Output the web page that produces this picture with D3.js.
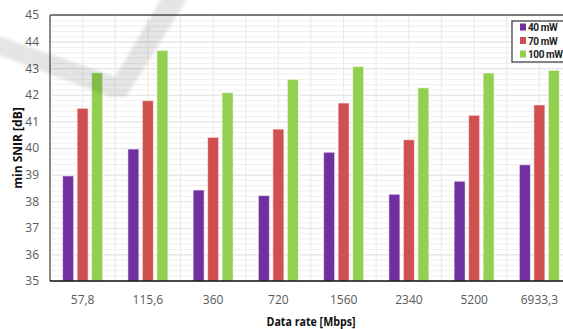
<!DOCTYPE html>
<html>
<head>
<meta charset="utf-8">
<script src="https://cdn.jsdelivr.net/npm/d3@7/dist/d3.min.js"></script>
<style>
  html, body { margin: 0; padding: 0; background: #fff; overflow: hidden; }
  svg { display: block; }
</style>
</head>
<body>
<svg id="chart" width="563" height="329"></svg>
<script>
// Data rates (categories) and minimum SNIR per transmit power
const categories = ["57,8", "115,6", "360", "720", "1560", "2340", "5200", "6933,3"];
const seriesNames = ["40 mW", "70 mW", "100 mW"];
const snir40 = [38.95, 39.96, 38.42, 38.21, 39.84, 38.26, 38.75, 39.37];
const snir70 = [41.49, 41.78, 40.40, 40.71, 41.69, 40.31, 41.23, 41.62];
const snir100 = [42.83, 43.67, 42.08, 42.58, 43.06, 42.26, 42.82, 42.92];
const yTicks = [35, 36, 37, 38, 39, 40, 41, 42, 43, 44, 45];
const colors = ["#7030A0", "#D0504F", "#92D050"];

const series = [snir40, snir70, snir100];

const svg = d3.select("#chart");
const margin = { left: 50, top: 15, bottom: 48 };
const plotRight = 572;
const H = 329;

const x = d3.scaleBand().domain(categories).range([margin.left, plotRight]).padding(0);
const y = d3.scaleLinear().domain([35, 45]).range([H - margin.bottom, margin.top]);
const barW = 11, barStep = 14.5;

const defs = svg.append("defs");
defs.append("filter").attr("id", "soft")
  .attr("x", "-20%").attr("y", "-20%").attr("width", "140%").attr("height", "140%")
  .append("feGaussianBlur").attr("stdDeviation", 1.8);

const grid = svg.append("g");
// minor horizontal gridlines
const minor = d3.range(35, 45.001, 0.2).map(v => +v.toFixed(1));
grid.selectAll("line.minor").data(minor).join("line")
  .attr("x1", margin.left).attr("x2", plotRight)
  .attr("y1", d => y(d) + 0.5).attr("y2", d => y(d) + 0.5)
  .attr("stroke", "#f0f0f0").attr("stroke-width", 1);
// major horizontal gridlines
grid.selectAll("line.major").data(yTicks).join("line")
  .attr("x1", margin.left).attr("x2", plotRight)
  .attr("y1", d => y(d) + 0.5).attr("y2", d => y(d) + 0.5)
  .attr("stroke", "#e4e4e4").attr("stroke-width", 1);
// vertical gridlines at category centres and boundaries
const vlines = [];
categories.forEach(c => { vlines.push(x(c)); vlines.push(x(c) + x.bandwidth() / 2); });
vlines.push(plotRight);
grid.selectAll("line.v").data(vlines).join("line")
  .attr("x1", d => d).attr("x2", d => d)
  .attr("y1", margin.top).attr("y2", y(35))
  .attr("stroke", "#ececec").attr("stroke-width", 1.2);

// bars
const bars = svg.append("g");
series.forEach((vals, si) => {
  bars.selectAll(null).data(vals).join("rect")
    .attr("x", (d, i) => x(categories[i]) + x.bandwidth() / 2 + (si - 1) * barStep - barW / 2)
    .attr("y", d => y(d))
    .attr("width", barW)
    .attr("height", d => y(35) - y(d))
    .attr("fill", colors[si])
    .attr("stroke", "rgba(255,255,255,0.55)")
    .attr("stroke-width", 1);
});

// axes frame
svg.append("line").attr("x1", margin.left).attr("x2", plotRight)
  .attr("y1", margin.top).attr("y2", margin.top)
  .attr("stroke", "#555").attr("stroke-width", 1.5);
svg.append("line").attr("x1", margin.left).attr("x2", margin.left)
  .attr("y1", margin.top).attr("y2", y(35))
  .attr("stroke", "#6a6a6a").attr("stroke-width", 1.5);
svg.append("line").attr("x1", margin.left).attr("x2", plotRight)
  .attr("y1", y(35)).attr("y2", y(35))
  .attr("stroke", "#111").attr("stroke-width", 1.5);

const tickFont = "'Open Sans', sans-serif";

// y-axis tick labels
const yAxis = d3.axisLeft(y).tickValues(yTicks).tickSize(0).tickPadding(11);
const yg = svg.append("g").attr("transform", `translate(${margin.left},0)`).call(yAxis);
yg.select(".domain").remove();
yg.selectAll("text").attr("font-family", tickFont).attr("font-size", 12).attr("fill", "#595959");

// x-axis tick labels
const xAxis = d3.axisBottom(x).tickSize(0).tickPadding(14);
const xg = svg.append("g").attr("transform", `translate(0,${y(35)})`).call(xAxis);
xg.select(".domain").remove();
xg.selectAll("text").attr("font-family", tickFont).attr("font-size", 12).attr("fill", "#595959");

// axis titles
svg.append("text")
  .attr("transform", `translate(22,148) rotate(-90)`)
  .attr("text-anchor", "middle")
  .attr("font-family", "'Open Sans', sans-serif")
  .attr("font-weight", "bold").attr("font-size", 12).attr("fill", "#111")
  .text("min SNIR [dB]");
svg.append("text")
  .attr("x", 311).attr("y", 326)
  .attr("text-anchor", "middle")
  .attr("font-family", "'Open Sans', sans-serif")
  .attr("font-weight", "bold").attr("font-size", 11.5).attr("fill", "#111")
  .attr("textLength", 89).attr("lengthAdjust", "spacingAndGlyphs")
  .text("Data rate [Mbps]");

// legend
const lg = svg.append("g").attr("transform", "translate(512,21)");
lg.append("rect").attr("x", 0).attr("y", 0).attr("width", 70).attr("height", 41)
  .attr("fill", "#fff").attr("stroke", "#444").attr("stroke-width", 1.3);
seriesNames.forEach((name, i) => {
  lg.append("rect").attr("x", 8).attr("y", 2.5 + i * 13.5).attr("width", 6).attr("height", 7)
    .attr("fill", colors[i]);
  lg.append("text").attr("x", 16).attr("y", 10 + i * 13.5)
    .attr("font-family", "Roboto, sans-serif").attr("font-weight", "bold")
    .attr("font-size", 10).attr("letter-spacing", -0.4).attr("fill", "#222")
    .text(name);
});

// faint grey check-mark watermark over the page
svg.append("path")
  .attr("d", "M-4,35 L115,77 L163,-4 L189,-4 L126,97 L111,97 L-4,54 Z")
  .attr("fill", "rgba(0,0,0,0.10)")
  .attr("filter", "url(#soft)");
</script>
</body>
</html>
